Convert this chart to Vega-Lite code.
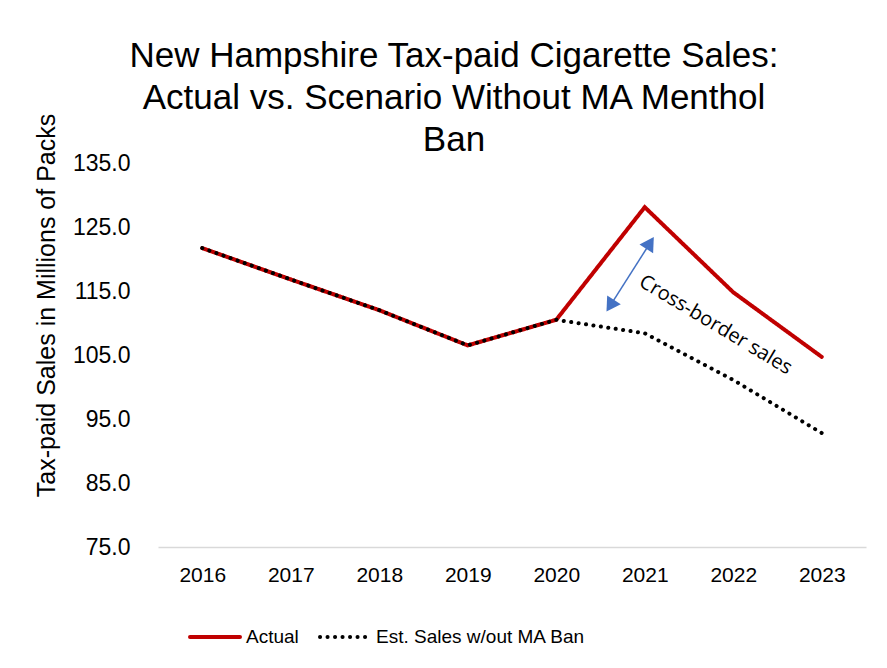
{
  "$schema": "https://vega.github.io/schema/vega-lite/v6.json",
  "autosize": {"type": "none"},
  "width": 708,
  "height": 384,
  "padding": {"left": 158, "top": 163, "right": 21, "bottom": 121},
  "background": "white",
  "title": {
    "text": ["New Hampshire Tax-paid Cigarette Sales:", "Actual vs. Scenario Without MA Menthol", "Ban"],
    "font": "Liberation Sans",
    "fontSize": 35,
    "fontWeight": "normal",
    "color": "#000000",
    "lineHeight": 42,
    "anchor": "middle",
    "dx": -58,
    "offset": 12,
    "dy": 57
  },
  "config": {
    "view": {"stroke": null},
    "axis": {"grid": false, "ticks": false}
  },
  "datasets": {
    "sales": [
      {"year": 2016, "series": "Actual", "value": 121.7},
      {"year": 2017, "series": "Actual", "value": 116.8},
      {"year": 2018, "series": "Actual", "value": 112.0},
      {"year": 2019, "series": "Actual", "value": 106.5},
      {"year": 2020, "series": "Actual", "value": 110.5},
      {"year": 2021, "series": "Actual", "value": 128.1},
      {"year": 2022, "series": "Actual", "value": 114.8},
      {"year": 2023, "series": "Actual", "value": 104.7},
      {"year": 2016, "series": "Est. Sales w/out MA Ban", "value": 121.7},
      {"year": 2017, "series": "Est. Sales w/out MA Ban", "value": 116.8},
      {"year": 2018, "series": "Est. Sales w/out MA Ban", "value": 112.0},
      {"year": 2019, "series": "Est. Sales w/out MA Ban", "value": 106.5},
      {"year": 2020, "series": "Est. Sales w/out MA Ban", "value": 110.5},
      {"year": 2021, "series": "Est. Sales w/out MA Ban", "value": 108.4},
      {"year": 2022, "series": "Est. Sales w/out MA Ban", "value": 101.1},
      {"year": 2023, "series": "Est. Sales w/out MA Ban", "value": 92.8}
    ],
    "arrow": [
      {"x": 2020.61, "y": 112.7, "x2": 2021.06, "y2": 122.5}
    ],
    "heads": [
      {"x": 2021.06, "y": 122.5, "angle": 32.5},
      {"x": 2020.61, "y": 112.7, "angle": 212.5}
    ],
    "note": [
      {"x": 2021.8, "y": 109.7, "label": "Cross-border sales"}
    ]
  },
  "layer": [
    {
      "data": {"name": "sales"},
      "mark": {"type": "line", "strokeWidth": 4, "strokeCap": "round"},
      "encoding": {
        "x": {
          "field": "year", "type": "quantitative",
          "scale": {"domain": [2015.5, 2023.5], "nice": false, "zero": false},
          "axis": {
            "title": null,
            "values": [2016, 2017, 2018, 2019, 2020, 2021, 2022, 2023],
            "format": "d",
            "labelFont": "Liberation Sans Narrow, Liberation Sans, sans-serif",
            "labelFontSize": 21,
            "labelColor": "#000000",
            "labelPadding": 17,
            "domainColor": "#d9d9d9",
            "domainWidth": 1.5
          }
        },
        "y": {
          "field": "value", "type": "quantitative",
          "scale": {"domain": [75, 135], "nice": false, "zero": false},
          "axis": {
            "title": "Tax-paid Sales in Millions of Packs",
            "titleFont": "Liberation Sans",
            "titleFontSize": 25,
            "titleFontWeight": "normal",
            "titleColor": "#000000",
            "titleX": -112,
            "titleY": 142,
            "titleBaseline": "middle",
            "titleLimit": 500,
            "values": [75, 85, 95, 105, 115, 125, 135],
            "format": ".1f",
            "labelFont": "Liberation Sans",
            "labelFontSize": 23,
            "labelColor": "#000000",
            "labelPadding": 28,
            "domain": false
          }
        },
        "color": {
          "field": "series", "type": "nominal",
          "scale": {"domain": ["Actual", "Est. Sales w/out MA Ban"], "range": ["#C00000", "#000000"]},
          "legend": {
            "title": null,
            "orient": "none",
            "legendX": 30,
            "legendY": 447,
            "direction": "horizontal",
            "symbolType": "stroke",
            "symbolSize": 2500,
            "symbolStrokeWidth": 4,
            "labelFont": "Liberation Sans Narrow, Liberation Sans, sans-serif",
            "labelFontSize": 19,
            "labelColor": "#000000",
            "labelLimit": 400,
            "columnPadding": 13,
            "labelOffset": 4,
            "encode": {"symbols": {"update": {"strokeCap": {"value": "round"}}}}
          }
        },
        "strokeDash": {
          "field": "series", "type": "nominal",
          "scale": {"domain": ["Actual", "Est. Sales w/out MA Ban"], "range": [[1, 0], [0.1, 7.4]]},
          "legend": null
        }
      }
    },
    {
      "data": {"name": "arrow"},
      "mark": {"type": "rule", "color": "#4472C4", "strokeWidth": 1.5},
      "encoding": {
        "x": {"field": "x", "type": "quantitative"},
        "y": {"field": "y", "type": "quantitative"},
        "x2": {"field": "x2"},
        "y2": {"field": "y2"}
      }
    },
    {
      "data": {"name": "heads"},
      "mark": {"type": "point", "shape": "triangle-up", "filled": true, "color": "#4472C4", "size": 260, "opacity": 1},
      "encoding": {
        "x": {"field": "x", "type": "quantitative"},
        "y": {"field": "y", "type": "quantitative"},
        "angle": {"field": "angle", "type": "quantitative", "scale": null}
      }
    },
    {
      "data": {"name": "note"},
      "mark": {"type": "text", "angle": 31, "font": "Open Sans", "fontSize": 20, "color": "#000000", "align": "center", "baseline": "middle"},
      "encoding": {
        "x": {"field": "x", "type": "quantitative"},
        "y": {"field": "y", "type": "quantitative"},
        "text": {"field": "label"}
      }
    }
  ]
}
